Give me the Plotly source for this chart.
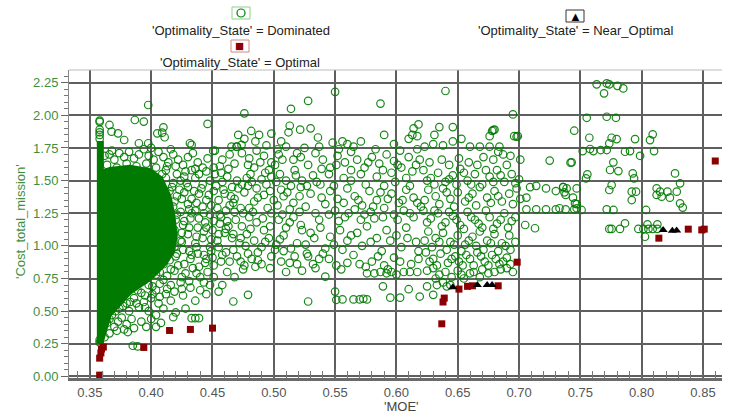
import plotly.graph_objects as go

# ---------------- data ----------------
# Saturated (fully over-plotted) region of Dominated points: outline in data units
dense_core_moe = [0.3557, 0.3598, 0.3598, 0.3663, 0.3826, 0.3989, 0.4080, 0.4150, 0.4180, 0.4200,
                  0.4180, 0.4120, 0.4040, 0.3949, 0.3826, 0.3745, 0.3663, 0.3614, 0.3598, 0.3557]
dense_core_cost = [1.788, 1.788, 1.566, 1.590, 1.605, 1.580, 1.520, 1.380, 1.240, 1.084,
                   0.960, 0.870, 0.790, 0.720, 0.640, 0.560, 0.472, 0.319, 0.265, 0.265]

dom_column = [(0.358, 1.96), (0.358, 1.95), (0.358, 1.89), (0.358, 1.87), (0.358, 1.85),
              (0.358, 1.82), (0.358, 0.28), (0.358, 0.26)]

dom_top_left = [(0.3976, 2.079), (0.366, 1.926), (0.3867, 1.964), (0.394, 1.952), (0.41, 1.908),
                (0.409, 1.867), (0.405, 1.862), (0.373, 1.862), (0.3677, 1.875), (0.378, 1.811),
                (0.411, 1.832), (0.446, 1.934), (0.39, 1.786), (0.3976, 1.786), (0.4316, 1.786),
                (0.433, 1.773), (0.4506, 1.727), (0.471, 1.85), (0.4737, 1.773), (0.4655, 1.76),
                (0.4696, 1.76)]

dom_core_top = [(0.362, 1.69), (0.366, 1.70), (0.370, 1.66), (0.374, 1.71), (0.378, 1.68), (0.382, 1.72),
                (0.386, 1.67), (0.390, 1.70), (0.394, 1.74), (0.398, 1.69), (0.402, 1.66), (0.406, 1.72),
                (0.410, 1.68), (0.414, 1.64), (0.418, 1.70), (0.422, 1.66), (0.426, 1.62), (0.430, 1.68),
                (0.434, 1.71), (0.438, 1.64), (0.442, 1.60), (0.446, 1.67), (0.364, 1.62), (0.372, 1.60),
                (0.380, 1.63), (0.388, 1.61), (0.396, 1.63), (0.404, 1.60), (0.412, 1.58), (0.420, 1.61),
                (0.428, 1.57), (0.436, 1.59), (0.368, 1.73), (0.400, 1.75), (0.416, 1.74)]

dom_core_right = [(0.412, 1.52), (0.418, 1.48), (0.424, 1.50), (0.430, 1.45), (0.436, 1.52), (0.442, 1.47),
                  (0.448, 1.50), (0.415, 1.42), (0.421, 1.38), (0.427, 1.41), (0.433, 1.36), (0.439, 1.40),
                  (0.445, 1.35), (0.451, 1.42), (0.418, 1.30), (0.424, 1.26), (0.430, 1.32), (0.436, 1.27),
                  (0.442, 1.30), (0.448, 1.24), (0.454, 1.29), (0.420, 1.20), (0.426, 1.16), (0.432, 1.21),
                  (0.438, 1.14), (0.444, 1.18), (0.450, 1.12), (0.456, 1.17), (0.418, 1.08), (0.424, 1.04),
                  (0.430, 1.09), (0.436, 1.02), (0.442, 1.06), (0.448, 0.99), (0.454, 1.04), (0.414, 0.96),
                  (0.420, 0.92), (0.426, 0.97), (0.432, 0.90), (0.438, 0.94), (0.444, 0.87), (0.450, 0.91),
                  (0.410, 0.86), (0.416, 0.82), (0.422, 0.85), (0.428, 0.79), (0.434, 0.83), (0.440, 0.76),
                  (0.446, 0.80), (0.404, 0.78), (0.410, 0.74), (0.416, 0.70), (0.424, 0.72), (0.432, 0.68),
                  (0.398, 0.70), (0.404, 0.66), (0.412, 0.63)]

dom_core_bottom = [(0.392, 0.64), (0.386, 0.60), (0.394, 0.57), (0.400, 0.60), (0.406, 0.56), (0.380, 0.56),
                   (0.374, 0.52), (0.382, 0.50), (0.390, 0.53), (0.398, 0.50), (0.404, 0.47), (0.410, 0.52),
                   (0.416, 0.58), (0.420, 0.49), (0.368, 0.47), (0.376, 0.45), (0.384, 0.44), (0.392, 0.42),
                   (0.400, 0.44), (0.408, 0.41), (0.364, 0.41), (0.370, 0.38), (0.378, 0.36), (0.386, 0.37),
                   (0.396, 0.38), (0.404, 0.38), (0.366, 0.33), (0.372, 0.35), (0.381, 0.34), (0.385, 0.235),
                   (0.389, 0.23), (0.362, 0.30), (0.418, 0.454), (0.433, 0.446), (0.436, 0.446), (0.439, 0.446),
                   (0.428, 0.52), (0.436, 0.58), (0.426, 0.62), (0.445, 0.63), (0.455, 0.65), (0.448, 0.70),
                   (0.467, 0.574), (0.440, 0.66)]

dom_near_core = [(0.409, 1.55), (0.413, 1.61), (0.421, 1.55), (0.427, 1.53), (0.433, 1.58), (0.439, 1.55),
                 (0.445, 1.57), (0.451, 1.60), (0.457, 1.56), (0.463, 1.59), (0.417, 1.45), (0.423, 1.43),
                 (0.429, 1.48), (0.435, 1.42), (0.441, 1.44), (0.447, 1.39), (0.453, 1.46), (0.459, 1.43),
                 (0.465, 1.38), (0.471, 1.44), (0.419, 1.34), (0.425, 1.36), (0.431, 1.28), (0.437, 1.33),
                 (0.443, 1.25), (0.449, 1.31), (0.455, 1.35), (0.461, 1.27), (0.467, 1.33), (0.473, 1.29),
                 (0.421, 1.24), (0.427, 1.19), (0.433, 1.25), (0.439, 1.21), (0.445, 1.14), (0.451, 1.19),
                 (0.457, 1.22), (0.463, 1.15), (0.469, 1.20), (0.475, 1.25), (0.419, 1.12), (0.425, 1.10),
                 (0.431, 1.14), (0.437, 1.07), (0.443, 1.11), (0.449, 1.05), (0.455, 1.09), (0.461, 1.13),
                 (0.467, 1.09), (0.473, 1.06), (0.413, 1.01), (0.419, 0.99), (0.425, 1.03), (0.431, 0.96),
                 (0.437, 0.99), (0.443, 0.93), (0.449, 0.96), (0.455, 0.99), (0.461, 0.95), (0.467, 0.97),
                 (0.409, 0.91), (0.415, 0.89), (0.421, 0.94), (0.427, 0.86), (0.433, 0.93), (0.439, 0.84),
                 (0.445, 0.90), (0.451, 0.85), (0.457, 0.88), (0.401, 0.82), (0.407, 0.80), (0.413, 0.77),
                 (0.419, 0.81), (0.425, 0.76), (0.431, 0.73), (0.437, 0.79), (0.443, 0.72), (0.451, 0.76),
                 (0.395, 0.74), (0.401, 0.69), (0.407, 0.71), (0.413, 0.67), (0.419, 0.65), (0.425, 0.67),
                 (0.389, 0.66), (0.395, 0.62), (0.401, 0.63), (0.407, 0.61), (0.383, 0.57), (0.377, 0.54),
                 (0.371, 0.50), (0.388, 0.56), (0.395, 0.53), (0.366, 0.44), (0.373, 0.42), (0.380, 0.40)]

dom_mid_left = [(0.452, 1.73), (0.458, 1.66), (0.464, 1.70), (0.470, 1.76), (0.474, 1.71), (0.480, 1.67),
                (0.486, 1.73), (0.492, 1.69), (0.498, 1.64), (0.504, 1.70), (0.510, 1.76), (0.516, 1.66),
                (0.456, 1.61), (0.468, 1.63), (0.484, 1.60), (0.496, 1.58),
                (0.476, 2.015), (0.4816, 1.88), (0.488, 1.85), (0.485, 1.80), (0.498, 1.86), (0.514, 2.05),
                (0.513, 1.92), (0.512, 1.87), (0.528, 2.11), (0.5215, 1.89), (0.530, 1.90), (0.506, 1.80),
                (0.476, 1.82),
                (0.452, 1.55), (0.458, 1.49), (0.462, 1.53), (0.466, 1.45), (0.470, 1.50), (0.474, 1.47),
                (0.478, 1.52), (0.482, 1.49), (0.486, 1.44), (0.490, 1.51), (0.494, 1.47), (0.498, 1.53),
                (0.502, 1.49), (0.506, 1.43), (0.510, 1.50), (0.514, 1.46), (0.518, 1.54), (0.460, 1.40),
                (0.468, 1.36), (0.476, 1.41), (0.484, 1.34), (0.492, 1.39), (0.500, 1.35), (0.508, 1.38),
                (0.516, 1.33), (0.464, 1.31), (0.480, 1.29),
                (0.456, 1.24), (0.462, 1.19), (0.468, 1.26), (0.474, 1.15), (0.480, 1.22), (0.486, 1.18),
                (0.492, 1.12), (0.498, 1.25), (0.504, 1.20), (0.510, 1.14), (0.516, 1.22), (0.460, 1.10),
                (0.466, 1.06), (0.472, 1.02), (0.478, 1.09), (0.484, 1.04), (0.490, 0.99), (0.496, 1.06),
                (0.502, 1.01), (0.508, 1.08), (0.514, 0.98),
                (0.458, 0.93), (0.464, 0.88), (0.470, 0.92), (0.476, 0.85), (0.482, 0.90), (0.490, 0.86),
                (0.498, 0.92), (0.506, 0.88), (0.462, 0.80), (0.468, 0.76), (0.475, 0.82), (0.479, 0.625),
                (0.485, 0.84), (0.508, 0.96), (0.513, 0.87), (0.510, 0.80), (0.527, 0.94), (0.528, 0.92),
                (0.534, 0.83), (0.542, 0.765), (0.458, 0.70)]

dom_mid_left_extra = [(0.479, 1.62), (0.489, 1.64), (0.501, 1.62), (0.507, 1.66), (0.519, 1.71), (0.525, 1.75),
                      (0.494, 1.77), (0.503, 1.74), (0.481, 1.55), (0.493, 1.56), (0.505, 1.55), (0.517, 1.58),
                      (0.523, 1.50), (0.527, 1.46), (0.479, 1.46), (0.497, 1.42), (0.511, 1.41), (0.521, 1.38),
                      (0.487, 1.37), (0.503, 1.31), (0.513, 1.28), (0.495, 1.29), (0.483, 1.26), (0.491, 1.21),
                      (0.507, 1.24), (0.521, 1.26), (0.481, 1.13), (0.497, 1.15), (0.513, 1.18), (0.523, 1.12),
                      (0.477, 1.00), (0.493, 1.03), (0.505, 1.05), (0.519, 1.02), (0.487, 0.95), (0.501, 0.97),
                      (0.517, 0.92), (0.479, 0.94), (0.473, 0.88), (0.487, 0.89), (0.519, 0.86), (0.497, 0.83),
                      (0.523, 0.81)]

dom_mid = [(0.55, 2.18), (0.587, 2.09), (0.536, 1.83), (0.548, 1.79), (0.556, 1.80), (0.565, 1.76),
           (0.590, 1.85), (0.598, 1.78), (0.560, 1.78), (0.610, 1.82),
           (0.522, 1.68), (0.528, 1.62), (0.534, 1.71), (0.540, 1.66), (0.546, 1.60), (0.552, 1.69),
           (0.558, 1.64), (0.563, 1.72), (0.568, 1.66), (0.574, 1.60), (0.580, 1.68), (0.586, 1.63),
           (0.592, 1.70), (0.598, 1.65), (0.604, 1.60), (0.610, 1.68), (0.616, 1.62), (0.545, 1.55),
           (0.557, 1.52), (0.571, 1.55), (0.584, 1.53), (0.596, 1.56), (0.608, 1.52), (0.532, 1.54),
           (0.522, 1.45), (0.530, 1.40), (0.538, 1.47), (0.546, 1.42), (0.552, 1.36), (0.560, 1.44),
           (0.566, 1.38), (0.572, 1.31), (0.578, 1.42), (0.584, 1.35), (0.590, 1.46), (0.596, 1.40),
           (0.602, 1.33), (0.608, 1.43), (0.614, 1.37), (0.526, 1.30), (0.534, 1.25), (0.542, 1.32),
           (0.550, 1.27), (0.558, 1.22), (0.566, 1.28), (0.574, 1.24), (0.582, 1.21), (0.590, 1.29),
           (0.598, 1.24), (0.606, 1.27), (0.614, 1.22), (0.620, 1.30),
           (0.522, 1.16), (0.530, 1.10), (0.538, 1.14), (0.546, 1.07), (0.554, 1.12), (0.560, 1.04),
           (0.568, 1.10), (0.576, 1.15), (0.584, 1.06), (0.592, 1.12), (0.600, 1.08), (0.608, 1.14),
           (0.616, 1.03), (0.526, 1.01), (0.542, 0.98), (0.556, 0.97), (0.572, 1.00), (0.588, 0.96),
           (0.604, 0.99), (0.618, 0.96),
           (0.528, 0.574), (0.550, 0.65), (0.551, 0.587), (0.556, 0.59), (0.565, 0.59), (0.570, 0.59),
           (0.573, 0.595), (0.576, 0.59), (0.589, 0.69), (0.595, 0.603), (0.603, 0.603), (0.610, 0.668),
           (0.619, 0.612), (0.630, 0.625), (0.576, 0.79), (0.582, 0.79), (0.587, 0.80), (0.592, 0.79),
           (0.596, 0.80), (0.600, 0.78), (0.606, 0.80), (0.611, 0.80), (0.617, 0.80), (0.625, 0.81),
           (0.532, 0.86), (0.545, 0.90), (0.555, 0.82), (0.560, 0.87), (0.570, 0.86), (0.580, 0.88),
           (0.590, 0.85), (0.598, 0.91), (0.612, 0.86), (0.540, 0.94), (0.565, 0.93)]

dom_mid_extra = [(0.537, 1.76), (0.571, 1.80), (0.583, 1.74), (0.603, 1.73), (0.617, 1.74), (0.553, 1.74),
                 (0.539, 1.59), (0.551, 1.62), (0.563, 1.58), (0.577, 1.64), (0.589, 1.58), (0.601, 1.62),
                 (0.613, 1.57), (0.535, 1.49), (0.549, 1.46), (0.563, 1.50), (0.575, 1.47), (0.587, 1.41),
                 (0.599, 1.49), (0.611, 1.46), (0.539, 1.37), (0.557, 1.33), (0.569, 1.35), (0.581, 1.30),
                 (0.593, 1.36), (0.605, 1.35), (0.617, 1.33), (0.537, 1.20), (0.545, 1.24), (0.553, 1.19),
                 (0.561, 1.25), (0.571, 1.20), (0.579, 1.26), (0.589, 1.22), (0.601, 1.20), (0.611, 1.25),
                 (0.533, 1.06), (0.549, 1.01), (0.563, 1.08), (0.579, 1.03), (0.595, 1.04), (0.609, 1.06),
                 (0.537, 0.90), (0.551, 0.85), (0.575, 0.84), (0.585, 0.92), (0.603, 0.88), (0.618, 0.90),
                 (0.593, 0.82)]

dom_mid_right = [(0.640, 2.186), (0.695, 2.007), (0.614, 1.90), (0.618, 1.93), (0.613, 1.85), (0.617, 1.84),
                 (0.631, 1.85), (0.635, 1.91), (0.646, 1.91), (0.653, 1.82), (0.646, 1.80), (0.638, 1.77),
                 (0.630, 1.78), (0.623, 1.76), (0.678, 1.88), (0.680, 1.89), (0.676, 1.84), (0.696, 1.84),
                 (0.699, 1.84), (0.660, 1.76), (0.668, 1.76), (0.676, 1.76), (0.684, 1.76), (0.683, 1.72),
                 (0.687, 1.70), (0.679, 1.887), (0.698, 1.836),
                 (0.622, 1.58), (0.628, 1.52), (0.634, 1.56), (0.640, 1.49), (0.646, 1.54), (0.652, 1.59),
                 (0.658, 1.50), (0.664, 1.55), (0.670, 1.47), (0.676, 1.53), (0.682, 1.58), (0.688, 1.49),
                 (0.694, 1.55), (0.700, 1.51), (0.626, 1.43), (0.632, 1.38), (0.638, 1.44), (0.644, 1.36),
                 (0.650, 1.41), (0.656, 1.34), (0.662, 1.40), (0.668, 1.45), (0.674, 1.37), (0.680, 1.42),
                 (0.686, 1.34), (0.692, 1.40), (0.698, 1.44), (0.666, 1.62), (0.690, 1.62), (0.706, 1.37),
                 (0.622, 1.27), (0.628, 1.21), (0.634, 1.25), (0.640, 1.18), (0.646, 1.23), (0.652, 1.16),
                 (0.658, 1.26), (0.664, 1.20), (0.670, 1.14), (0.676, 1.22), (0.682, 1.17), (0.688, 1.25),
                 (0.694, 1.19), (0.626, 1.11), (0.632, 1.06), (0.638, 1.10), (0.644, 1.03), (0.650, 1.08),
                 (0.656, 1.01), (0.662, 1.07), (0.668, 1.11), (0.674, 1.04), (0.680, 1.09), (0.686, 1.02),
                 (0.692, 1.08), (0.693, 0.97),
                 (0.624, 0.95), (0.630, 0.90), (0.636, 0.94), (0.642, 0.87), (0.648, 0.92), (0.654, 0.85),
                 (0.660, 0.90), (0.666, 0.95), (0.672, 0.88), (0.678, 0.93), (0.684, 0.86), (0.690, 0.91),
                 (0.630, 0.83), (0.640, 0.80), (0.650, 0.81), (0.660, 0.79), (0.670, 0.82), (0.680, 0.80),
                 (0.690, 0.83), (0.632, 0.75), (0.638, 0.72), (0.644, 0.70), (0.625, 0.69), (0.633, 0.70),
                 (0.641, 0.69), (0.655, 0.75), (0.668, 0.76)]

dom_mid_right_extra = [(0.619, 1.66), (0.627, 1.64), (0.637, 1.66), (0.643, 1.62), (0.651, 1.67), (0.659, 1.64),
                       (0.671, 1.68), (0.679, 1.66), (0.693, 1.69), (0.701, 1.66), (0.625, 1.50), (0.631, 1.47),
                       (0.643, 1.51), (0.649, 1.47), (0.655, 1.56), (0.661, 1.47), (0.673, 1.58), (0.679, 1.49),
                       (0.685, 1.54), (0.697, 1.48), (0.623, 1.35), (0.635, 1.32), (0.641, 1.41), (0.647, 1.30),
                       (0.659, 1.37), (0.665, 1.31), (0.677, 1.33), (0.683, 1.38), (0.695, 1.32), (0.701, 1.36),
                       (0.625, 1.18), (0.631, 1.27), (0.637, 1.15), (0.643, 1.26), (0.649, 1.20), (0.655, 1.13),
                       (0.661, 1.22), (0.667, 1.17), (0.673, 1.27), (0.679, 1.13), (0.685, 1.20), (0.691, 1.14),
                       (0.697, 1.22), (0.623, 1.04), (0.629, 0.99), (0.635, 1.03), (0.641, 0.97), (0.647, 1.01),
                       (0.653, 0.96), (0.659, 1.04), (0.665, 1.00), (0.671, 0.97), (0.677, 1.02), (0.683, 0.96),
                       (0.689, 1.00), (0.697, 1.03), (0.627, 0.88), (0.633, 0.85), (0.645, 0.90), (0.651, 0.88),
                       (0.657, 0.93), (0.663, 0.85), (0.669, 0.92), (0.675, 0.85), (0.681, 0.90), (0.687, 0.88),
                       (0.693, 0.86), (0.635, 0.78), (0.645, 0.76), (0.653, 0.78), (0.663, 0.80), (0.675, 0.79),
                       (0.685, 0.82), (0.695, 0.80)]

dom_right = [(0.709, 1.45), (0.714, 1.46), (0.722, 1.44), (0.730, 1.42), (0.736, 1.45), (0.738, 1.39),
             (0.744, 1.37), (0.747, 1.44), (0.706, 1.28), (0.714, 1.28), (0.722, 1.28), (0.730, 1.28),
             (0.738, 1.28), (0.745, 1.28), (0.705, 1.16), (0.713, 1.135), (0.725, 1.653), (0.742, 1.637),
             (0.745, 1.882), (0.747, 1.32),
             (0.7633, 2.237), (0.7715, 2.244), (0.7736, 2.237), (0.7802, 2.226), (0.785, 2.206),
             (0.7693, 2.168), (0.7552, 1.981), (0.7715, 1.989), (0.779, 1.981), (0.7573, 1.828),
             (0.7755, 1.828), (0.7796, 1.818), (0.7736, 1.785), (0.7946, 1.818), (0.809, 1.854),
             (0.8068, 1.81), (0.7519, 1.726), (0.7579, 1.742), (0.7606, 1.726), (0.7666, 1.734),
             (0.7715, 1.734), (0.7864, 1.721), (0.7905, 1.726), (0.7987, 1.69), (0.8101, 1.726),
             (0.7429, 1.64), (0.7769, 1.64), (0.7742, 1.581), (0.781, 1.573), (0.7557, 1.548),
             (0.7927, 1.555), (0.7938, 1.517), (0.8272, 1.555), (0.7546, 1.517), (0.7755, 1.466),
             (0.7736, 1.428), (0.7919, 1.415), (0.7954, 1.415), (0.8313, 1.479), (0.8122, 1.441),
             (0.8150, 1.415), (0.8210, 1.415), (0.8286, 1.415), (0.8122, 1.39), (0.8163, 1.377),
             (0.823, 1.369), (0.7919, 1.351), (0.736, 1.45), (0.7388, 1.44), (0.737, 1.41),
             (0.7456, 1.326), (0.7470, 1.288), (0.751, 1.275), (0.8313, 1.326), (0.8335, 1.293),
             (0.8036, 1.275), (0.7715, 1.28), (0.777, 1.275), (0.733, 1.288),
             (0.7736, 1.13), (0.7755, 1.13), (0.7823, 1.13), (0.7864, 1.173), (0.7973, 1.13),
             (0.8014, 1.13), (0.8055, 1.13), (0.8090, 1.13), (0.8128, 1.13), (0.8047, 1.165),
             (0.8128, 1.165), (0.8027, 1.07)]

# Optimal (dark red squares)
opt_moe = [0.358, 0.358, 0.359, 0.3595, 0.361, 0.394, 0.415, 0.432, 0.450, 0.637, 0.638, 0.639,
           0.651, 0.658, 0.662, 0.683, 0.6985, 0.814, 0.838, 0.849, 0.851, 0.860]
opt_cost = [0.01, 0.14, 0.18, 0.21, 0.225, 0.222, 0.352, 0.36, 0.37, 0.403, 0.57, 0.60,
            0.669, 0.69, 0.694, 0.694, 0.875, 1.059, 1.128, 1.122, 1.128, 1.650]

# Near_Optimal (black triangles)
near_moe = [0.646, 0.666, 0.674, 0.678, 0.8175, 0.825, 0.8285]
near_cost = [0.684, 0.70, 0.70, 0.70, 1.122, 1.115, 1.117]

x_ticks = [0.35, 0.40, 0.45, 0.50, 0.55, 0.60, 0.65, 0.70, 0.75, 0.80, 0.85]
y_ticks = [0.00, 0.25, 0.50, 0.75, 1.00, 1.25, 1.50, 1.75, 2.00, 2.25]

# ---------------- figure ----------------
dominated = (dom_column + dom_top_left + dom_core_top + dom_core_right + dom_core_bottom
             + dom_near_core + dom_mid_left + dom_mid_left_extra + dom_mid + dom_mid_extra
             + dom_mid_right + dom_mid_right_extra + dom_right)
dom_moe = [p[0] for p in dominated]
dom_cost = [p[1] for p in dominated]

FONT = "Liberation Sans, Arial, sans-serif"

fig = go.Figure()
fig.add_trace(go.Scatter(x=dense_core_moe, y=dense_core_cost, mode="lines", fill="toself",
                         fillcolor="rgb(0,122,0)", line=dict(color="rgb(0,122,0)", width=4),
                         hoverinfo="skip", showlegend=False))
fig.add_trace(go.Scatter(x=dom_moe, y=dom_cost, mode="markers", showlegend=False,
                         marker=dict(symbol="circle-open", size=7.5, color="rgba(0,122,0,0.9)",
                                     line=dict(width=1.2))))
fig.add_trace(go.Scatter(x=opt_moe, y=opt_cost, mode="markers", showlegend=False,
                         marker=dict(symbol="square", size=7, color="#8b0000")))
fig.add_trace(go.Scatter(x=near_moe, y=near_cost, mode="markers", showlegend=False,
                         marker=dict(symbol="triangle-up", size=8, color="black")))

W, H = 733, 413
L, R, T, B = 69, 11, 70, 35
pw, ph = W - L - R, H - T - B


def px_x(px):
    return (px - L) / pw


def px_y(py):
    return (H - B - py) / ph


fig.update_layout(
    width=W, height=H, margin=dict(l=L, r=R, t=T, b=B),
    paper_bgcolor="white", plot_bgcolor="white",
    font=dict(family=FONT, size=13, color="#333"),
    xaxis=dict(range=[0.333, 0.8655], tickvals=x_ticks, tickformat=".2f",
               showgrid=True, gridcolor="#5f5f5f", gridwidth=1.5,
               showline=True, linecolor="#6a6a6a", linewidth=3,
               ticks="inside", ticklen=9, tickcolor="#6a6a6a", tickwidth=1.2,
               minor=dict(dtick=0.01, ticks="inside", ticklen=7, tickcolor="#777", showgrid=False),
               tickfont=dict(size=13, color="#555"), zeroline=False),
    yaxis=dict(range=[-0.012, 2.347], tickvals=y_ticks, tickformat=".2f",
               showgrid=True, gridcolor="#5f5f5f", gridwidth=1.5,
               showline=True, linecolor="#888", linewidth=1,
               ticks="outside", ticklen=7, tickcolor="#666", tickwidth=1.2,
               minor=dict(dtick=0.05, ticks="outside", ticklen=4, tickcolor="#777", showgrid=False),
               tickfont=dict(size=13, color="#3f8f3f"), zeroline=False),
)

# top frame line
fig.add_shape(type="line", xref="paper", yref="paper", x0=0, x1=1, y0=1, y1=1,
              line=dict(color="#bbbbbb", width=1))


def label(text, cx, cy, size, color, angle=0):
    return dict(text=text, x=px_x(cx), y=px_y(cy), xref="paper", yref="paper",
                xanchor="center", yanchor="middle", textangle=angle, showarrow=False,
                font=dict(size=size, color=color))


ann = [label("'MOE'", 401, 406, 13, "#444"),
       label("'Cost_total_mission'", 20, 222, 13, "#3f8f3f", -90)]

# legend (symbol box above each text)
legend_items = [
    ("'Optimality_State' = Dominated", 241, 31, 13, "#8fd08f", None, "rgb(0,128,0)", 0),
    ("'Optimality_State' = Optimal", 240, 62, 46, "#d08a8a", "■", "#8b0000", 15),
    ("'Optimality_State' = Near_Optimal", 575, 31, 16, "#333333", "▲", "black", 13),
]
for text, cx, ty, by, bcol, glyph, gcol, gs in legend_items:
    ann.append(label(text, cx, ty, 13, "#222"))
    fig.add_shape(type="rect", xref="paper", yref="paper",
                  x0=px_x(cx - 9), x1=px_x(cx + 9), y0=px_y(by + 6), y1=px_y(by - 6),
                  line=dict(color=bcol, width=1), fillcolor="white")
    if glyph is None:
        fig.add_shape(type="circle", xref="paper", yref="paper",
                      x0=px_x(cx - 4), x1=px_x(cx + 4), y0=px_y(by + 4), y1=px_y(by - 4),
                      line=dict(color=gcol, width=1.2))
    else:
        ann.append(label(glyph, cx, by, gs, gcol))
fig.update_layout(annotations=ann)

fig.write_html("out.html")
